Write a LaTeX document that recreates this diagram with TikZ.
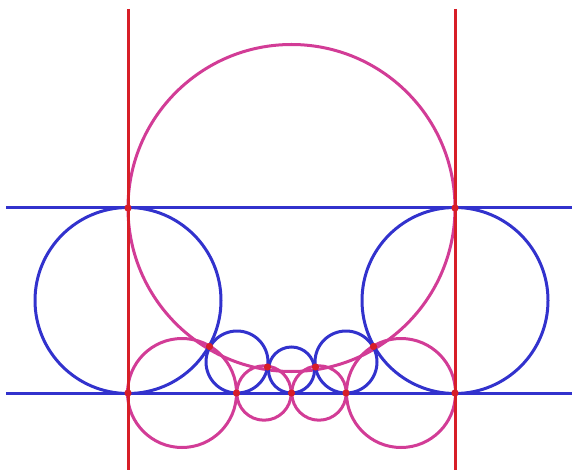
\documentclass[tikz,border=0pt]{standalone}
\definecolor{myred}{RGB}{215,30,40}
\definecolor{mypink}{RGB}{210,60,150}
\definecolor{myblue}{RGB}{50,50,205}
\tikzset{
  pinkc/.style={draw=mypink,line width=3pt},
  bluec/.style={draw=myblue,line width=3pt},
  redl/.style={draw=myred,line width=3pt},
  dotp/.style={fill=myred}
}
\begin{document}
\begin{tikzpicture}[x=1pt,y=-1pt]
\useasboundingbox (0,0) rectangle (572,470);
% pink circles
\draw[pinkc] (291.5,208) circle[radius=163.5];
\draw[pinkc] (182,393) circle[radius=54.5];
\draw[pinkc] (401,393) circle[radius=54.5];
\draw[pinkc] (264,393) circle[radius=27.2];
\draw[pinkc] (319,393) circle[radius=27.2];
% blue circles
\draw[bluec] (128,300.5) circle[radius=93];
\draw[bluec] (455,300.5) circle[radius=93];
\draw[bluec] (237,362) circle[radius=31];
\draw[bluec] (346,362) circle[radius=31];
\draw[bluec] (291.5,370) circle[radius=23];
% blue lines
\draw[bluec] (6,208) -- (572,208);
\draw[bluec] (6,393) -- (572,393);
% red lines
\draw[redl] (128,9) -- (128,470);
\draw[redl] (455,9) -- (455,470);
% dots
\foreach \p in {(128,208),(455,208),(128,393),(455,393),(236.5,393),(291.5,393),(346,393),(209.5,346.5),(373.5,346.5),(267.5,367),(315.5,367)}
  \fill[dotp] \p circle[radius=3.6];
\end{tikzpicture}
\end{document}
